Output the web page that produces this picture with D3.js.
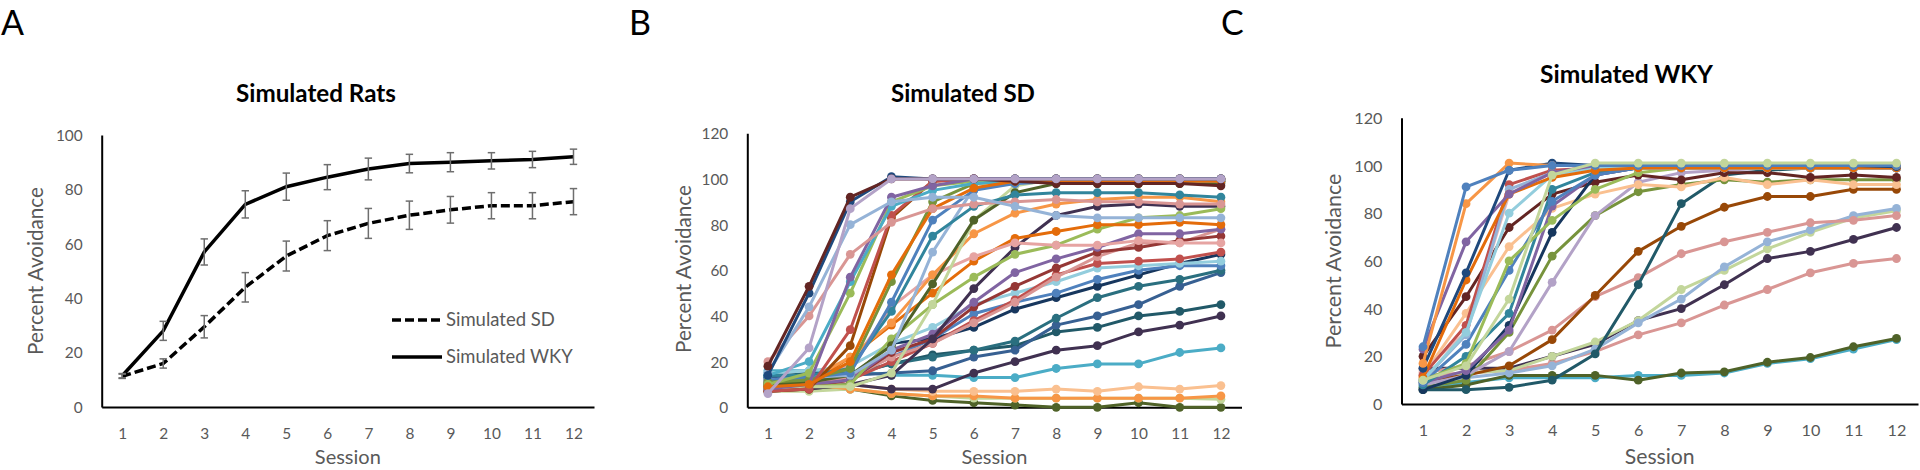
<!DOCTYPE html>
<html><head><meta charset="utf-8">
<script src="https://cdn.jsdelivr.net/npm/d3@7"></script>
<style>
body{margin:0;background:#fff}
svg{display:block}
text{font-family:Lato,"Open Sans",sans-serif}
</style>
</head><body>
<svg id="chart" width="1920" height="470"></svg>
<script>
// ---------- DATA ----------
const sessions = ["1","2","3","4","5","6","7","8","9","10","11","12"];
const yTicksA = [0,20,40,60,80,100];
const yTicksBC = [0,20,40,60,80,100,120];

// Panel A: group means and error bars
const wkyMean = [11.5,28,57,74.5,81,84.5,87.5,89.5,90,90.5,91,92];
const wkyErr  = [0.8,3.5,4.8,5,5,4.6,4,3.4,3.5,3,3,2.8];
const sdMean  = [11.3,16,29.5,44,55.5,63,67.5,70.5,72.5,74,74,75.5];
const sdErr   = [0.8,1.7,4.1,5.4,5.5,5.5,5.5,5.2,4.9,4.8,4.8,4.8];
const legendLabels = ["Simulated SD","Simulated WKY"];

// Panel B: simulated SD individual rats
const sdColors = ["#4F6228","#C3D69B","#F79646","#FAC090","#4BACC6","#403151","#215968","#376092",
  "#2A6F7F","#17375E","#4F81BD","#93CDDD","#C0504D","#D99694","#953735","#8064A2","#403151",
  "#9BBB59","#E46C0A","#E6A4A2","#F79646","#C3D69B","#4F6228","#95B3D7","#31859C","#4F81BD",
  "#77933C","#984807","#C0504D","#9BBB59","#4BACC6","#8064A2","#E46C0A","#D99694","#95B3D7",
  "#1F497D","#632523","#B3A2C7"];
const sdRats = [
  [9,8,8,5,3,2,1,0,0,2,0,0],
  [7,7,8,6,5,4,4,4,4,4,4,3.5],
  [11,10,8,6,5,5,4,4,4,4,4,5],
  [12,11,10,8,7,7,7,8,7,9,8,9.5],
  [16,16,16,14,14,13,13,17,19,19,24,26],
  [8,9,10,8,8,15,20,25,27,33,36,40],
  [13,15,14,19,23,25,27,33,35,40,42,45],
  [13,13,14,15,16,22,25,36,40,45,53,59],
  [14,14,15,19,22,25,29,39,48,53,56,60],
  [10,11,13,28,30,35,43,48,53,58,63,67],
  [11,12,14,22,30,41,46,50,56,60,62,62],
  [15,16,18,28,35,45,50,55,61,62,63,64],
  [9,10,12,20,28,38,47,58,63,64,65,68],
  [10,11,13,22,28,37,46,57,66,72,72,78],
  [8,9,12,24,30,44,53,61,68,70,73,75],
  [9,10,12,25,32,46,59,65,70,76,76,78],
  [7,8,10,14,30,52,70,84,88,89,88,88],
  [8,9,10,30,45,57,67,71,78,83,84,87],
  [9,10,22,36,50,64,74,77,80,80,81,80],
  [11,12,18,44,58,66,72,71,71,73,72,72],
  [12,12,22,37,58,76,85,89,91,92,92,90],
  [8,9,9,15,45,82,97,100,100,100,100,100],
  [10,11,14,27,54,82,94,98,98,98,98,98],
  [12,13,14,25,68,96,98,99,99,99,99,99],
  [14,14,17,42,75,88,93,94,94,94,93,92],
  [12,13,15,46,82,95,98,99,99,99,99,99],
  [11,12,17,55,90,98,99,99,99,99,99,99],
  [7,8,27,83,99,100,100,100,100,100,100,100],
  [7,8,34,84,99,100,100,100,100,100,100,100],
  [10,15,50,90,97,99,100,100,100,100,100,100],
  [14,20,55,88,95,98,99,99,99,99,99,99],
  [8,10,57,92,97,100,100,100,100,100,100,100],
  [9,10,20,58,87,96,99,99,99,99,99,99],
  [20,40,67,81,87,89,90,91,90,90,89,89],
  [15,44,80,90,92,92,88,84,83,83,83,83],
  [14,50,90,101,100,100,100,100,100,100,100,100],
  [18,53,92,100,100,100,99,98,98,98,98,97],
  [6,26,87,100,100,100,100,100,100,100,100,100]
];

// Panel C: simulated WKY individual rats
const wkyColors = ["#4BACC6","#4F6228","#D99694","#403151","#C3D69B","#95B3D7","#D99694","#984807",
  "#215968","#77933C","#B3A2C7","#FAC090","#632523","#17375E","#8064A2","#31859C","#4F81BD",
  "#9BBB59","#E6B9B8","#C0504D","#95B3D7","#93CDDD","#E46C0A","#8064A2","#1F497D","#F79646",
  "#4F81BD","#C3D69B"];
const wkyRats = [
  [7,9,11,11,11,12,12,13,17,19,23,27],
  [6,8,12,12,12,10,13,13.5,17.5,19.5,24,27.5],
  [12,13,14,17,22,29,34,41.5,48,55,59,61],
  [15,15,15,20,25,35,40,50,61,64,69,74],
  [9,13,14,20,26,35,48,56,65,72,78,81],
  [9,11,13,16,23,34,44,57.5,68,73,79,82],
  [13,16,22,31,45,53,63,68,72,76,77,79],
  [10,12,16,27,45.5,64,74.5,82.5,87,87,90,90],
  [6,6,7,10,21,50,84,96,98,99,99,99],
  [7,10,30,62,79,89,92,94,93,94,94,94],
  [8,12,22,51,79,93,97,98,99,99,100,99],
  [12,38,66,82,88,92,91,95,92,94,92,92],
  [20,45,74,88,93,96,94,97,97,95,96,95],
  [6,12,33,72,96,99,99,99,99,99,99,99],
  [9,14,31,83,96,99,99,99,99,99,99,99],
  [8,20,38,90,97,99,99,99,99,99,99,99],
  [9,25,56,85,96,99,99,99,99,99,99,99],
  [10,17,60,77,90,97,99,99,99,99,99,99],
  [14,30,88,97,99,99,99,99,99,99,99,99],
  [12,33,92,98,99,99,99,99,99,99,99,99],
  [10,29,90,97,99,99,99,99,99,99,99,99],
  [10,30,80,96,99,99,99,99,99,99,99,99],
  [11,52,88,95,98,99,99,99,99,99,99,99],
  [23,68,88,97,100,100,100,100,100,100,100,100],
  [15,55,98,101,100,100,100,100,100,100,100,99.5],
  [17,84,101,100,100,100,100,100,100,100,100,100],
  [24,91,98,100,100,100,100,100,100,100,100,100],
  [10,16,44,96,101,101,101,101,101,101,101,101]
];

// ---------- DRAWING ----------
const svg = d3.select("#chart");
const GRAY = "#595959";

function fitText(sel, target) {
  const node = sel.node();
  const fs = parseFloat(sel.attr("font-size"));
  const len = node.getComputedTextLength();
  if (len > 0) sel.attr("font-size", fs * target / len);
}

function makePanel(cfg) {
  const g = svg.append("g");
  const x = d3.scalePoint().domain(sessions).range([cfg.x0, cfg.x1]).padding(0.5);
  const y = d3.scaleLinear().domain([0, cfg.ymax]).range([cfg.yBottom, cfg.yTop]);

  const ya = g.append("g").attr("transform", `translate(${cfg.x0},0)`)
    .call(d3.axisLeft(y).tickValues(cfg.ticks).tickSize(0).tickSizeOuter(0).tickPadding(19));
  ya.select(".domain").attr("stroke", "#000").attr("stroke-width", 2);
  ya.selectAll("text").attr("font-size", cfg.tickFs).attr("fill", GRAY)
    .attr("font-family", "Lato").attr("dy", "0.35em");

  const xa = g.append("g").attr("transform", `translate(0,${cfg.yBottom})`)
    .call(d3.axisBottom(x).tickSize(0).tickSizeOuter(0));
  xa.select(".domain").attr("stroke", "#000").attr("stroke-width", 2);
  xa.selectAll("text").attr("font-size", cfg.tickFs).attr("fill", GRAY)
    .attr("font-family", "Lato").attr("y", cfg.xLabY - cfg.yBottom).attr("dy", "0.35em");

  const t = g.append("text").text(cfg.title).attr("x", cfg.titleX).attr("y", cfg.titleY)
    .attr("text-anchor", "middle").attr("font-weight", "bold").attr("font-size", 20).attr("fill", "#000");
  fitText(t, cfg.titleW);
  const xt = g.append("text").text("Session").attr("x", (cfg.x0 + cfg.x1) / 2).attr("y", cfg.sessY)
    .attr("text-anchor", "middle").attr("font-size", 20).attr("fill", GRAY);
  fitText(xt, cfg.sessW);
  const yt = g.append("text").text("Percent Avoidance")
    .attr("transform", `translate(${cfg.yLabX},${cfg.yLabY}) rotate(-90)`)
    .attr("text-anchor", "middle").attr("font-size", 20).attr("fill", GRAY);
  fitText(yt, cfg.yLabW);

  g.append("text").text(cfg.letter).attr("x", cfg.letterX).attr("y", 35)
    .attr("font-family", "Liberation Sans").attr("font-size", 34).attr("fill", "#000");

  return {g, x, y};
}

function drawSpaghetti(p, rats, colors) {
  const line = d3.line().x((d, i) => p.x(sessions[i])).y(d => p.y(d));
  rats.forEach((vals, k) => {
    const s = p.g.append("g");
    s.append("path").attr("d", line(vals)).attr("fill", "none")
      .attr("stroke", colors[k]).attr("stroke-width", 3).attr("stroke-linejoin", "round");
    s.selectAll("circle").data(vals).join("circle")
      .attr("cx", (d, i) => p.x(sessions[i])).attr("cy", d => p.y(d))
      .attr("r", 4.4).attr("fill", colors[k]);
  });
}

// Panel A
const pA = makePanel({x0:101.7, x1:594, yBottom:407, yTop:135, ymax:100, ticks:yTicksA, tickFs:15.4,
  xLabY:433.5, title:"Simulated Rats", titleX:316, titleY:102, titleW:160, sessY:464, sessW:66,
  yLabX:43.3, yLabY:271, yLabW:168, letter:"A", letterX:1});
{
  const line = d3.line().x((d, i) => pA.x(sessions[i])).y(d => pA.y(d));
  pA.g.append("path").attr("d", line(sdMean)).attr("fill", "none").attr("stroke", "#000")
    .attr("stroke-width", 3.5).attr("stroke-dasharray", "9,4");
  pA.g.append("path").attr("d", line(wkyMean)).attr("fill", "none").attr("stroke", "#000")
    .attr("stroke-width", 3.5);
  [[sdMean, sdErr], [wkyMean, wkyErr]].forEach(([m, e]) => {
    m.forEach((v, i) => {
      const cx = pA.x(sessions[i]);
      const y1 = pA.y(v - e[i]), y2 = pA.y(v + e[i]);
      pA.g.append("line").attr("x1", cx).attr("x2", cx).attr("y1", y1).attr("y2", y2)
        .attr("stroke", "#6e6e6e").attr("stroke-width", 1.5);
      [y1, y2].forEach(yy => pA.g.append("line").attr("x1", cx - 3.7).attr("x2", cx + 3.7)
        .attr("y1", yy).attr("y2", yy).attr("stroke", "#6e6e6e").attr("stroke-width", 1.5));
    });
  });
  const lg = pA.g.append("g");
  const rows = [{y:320, dash:"9,4"}, {y:357, dash:null}];
  rows.forEach((r, i) => {
    const l = lg.append("line").attr("x1", 392).attr("x2", 442).attr("y1", r.y).attr("y2", r.y)
      .attr("stroke", "#000").attr("stroke-width", 3.5);
    if (r.dash) l.attr("stroke-dasharray", r.dash);
    const t = lg.append("text").text(legendLabels[i]).attr("x", 446).attr("y", r.y).attr("dy", "0.35em")
      .attr("font-size", 18).attr("fill", GRAY);
    fitText(t, i === 0 ? 109 : 126.7);
  });
}

// Panel B
const pB = makePanel({x0:747.3, x1:1241.5, yBottom:407.3, yTop:133.3, ymax:120, ticks:yTicksBC, tickFs:15.4,
  xLabY:433.5, title:"Simulated SD", titleX:963, titleY:101.7, titleW:144, sessY:464, sessW:66,
  yLabX:690.5, yLabY:269, yLabW:168, letter:"B", letterX:629});
drawSpaghetti(pB, sdRats, sdColors);

// Panel C
const pC = makePanel({x0:1401.5, x1:1918, yBottom:404, yTop:117.8, ymax:120, ticks:yTicksBC, tickFs:16.2,
  xLabY:430, title:"Simulated WKY", titleX:1626.5, titleY:83, titleW:173, sessY:464, sessW:70,
  yLabX:1341, yLabY:261, yLabW:175, letter:"C", letterX:1221});
drawSpaghetti(pC, wkyRats, wkyColors);
</script>
</body></html>
